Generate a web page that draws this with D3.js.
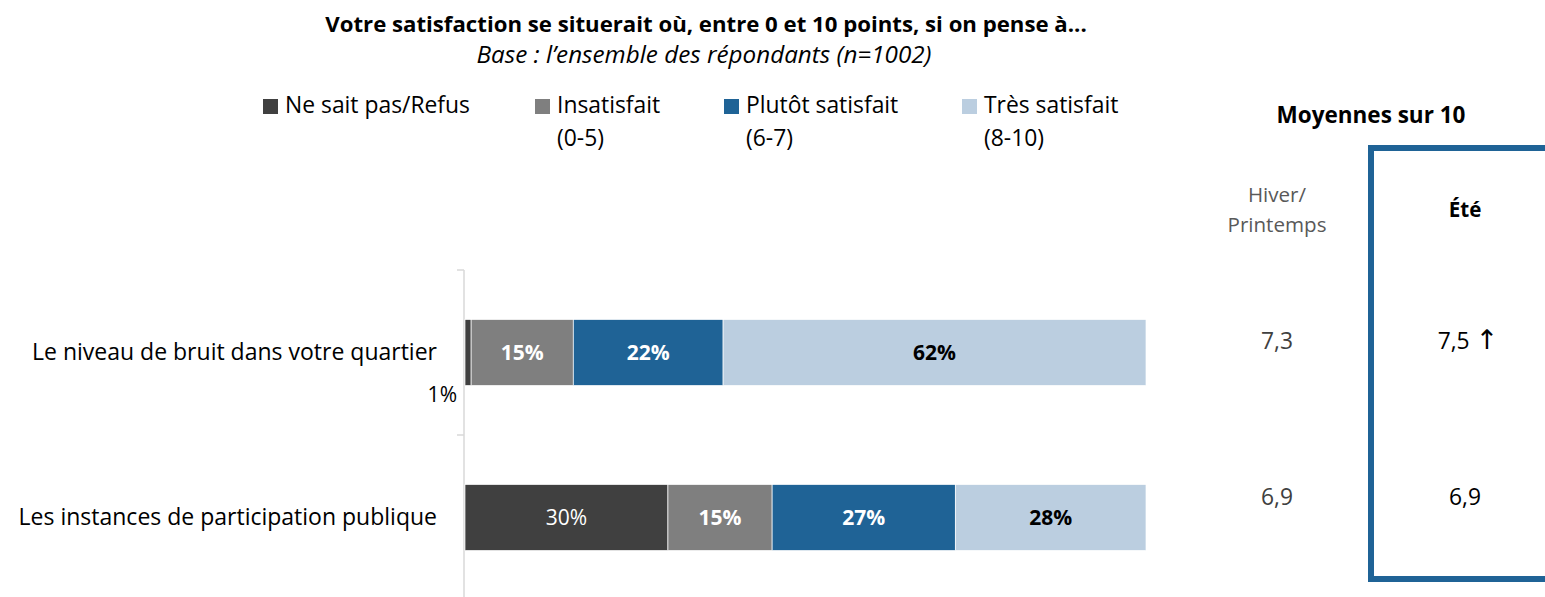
<!DOCTYPE html>
<html>
<head>
<meta charset="utf-8">
<script src="https://cdn.jsdelivr.net/npm/d3@7"></script>
<style>
  body { margin: 0; background: #fff; }
  svg { display: block; }
</style>
</head>
<body>
<div id="chart"></div>
<script>
// chart data
const categories = ["Le niveau de bruit dans votre quartier", "Les instances de participation publique"];
const seriesNames = ["Ne sait pas/Refus", "Insatisfait", "Plutôt satisfait", "Très satisfait"];
const seriesSub = ["", "(0-5)", "(6-7)", "(8-10)"];
const nspValues = [0.9, 29.8];
const insatValues = [15.0, 15.3];
const plutotValues = [22.0, 26.9];
const tresValues = [62.1, 28.0];
const hiverMeans = ["7,3", "6,9"];
const eteMeans = ["7,5", "6,9"];
const eteArrows = ["↑", ""];

const colors = ["#404040", "#7f7f7f", "#1f6396", "#bbcee0"];
const labelFill = ["#fff", "#fff", "#fff", "#000"];
const labelWeight = ["normal", "bold", "bold", "bold"];

const W = 1545, H = 597;
const mainFont = "'Open Sans', 'Noto Sans', sans-serif";
const sideFont = "'Open Sans', 'Noto Sans', sans-serif";

const svg = d3.select("#chart").append("svg")
  .attr("width", W).attr("height", H);

// scale font-size of a selection so that one of its texts gets the wanted width
function fit(sel, node, target) {
  const size = parseFloat(d3.select(node).style("font-size"));
  const len = node.getComputedTextLength();
  sel.style("font-size", (size * target / len).toFixed(2) + "px");
}

// title
const title = svg.append("text")
  .attr("x", 706).attr("y", 32)
  .attr("text-anchor", "middle")
  .style("font-family", mainFont).style("font-weight", "bold").style("font-size", "20px")
  .text("Votre satisfaction se situerait où, entre 0 et 10 points, si on pense à...");
fit(title, title.node(), 762);
const sub = svg.append("text")
  .attr("x", 704).attr("y", 63)
  .attr("text-anchor", "middle")
  .style("font-family", mainFont).style("font-style", "italic").style("font-size", "20px")
  .text("Base : l’ensemble des répondants (n=1002)");
fit(sub, sub.node(), 455);

// legend
const legendX = [285, 557, 746, 984];
const legend = svg.append("g").selectAll("g")
  .data(seriesNames)
  .join("g")
  .attr("transform", (d, i) => `translate(${legendX[i]},0)`);
legend.append("rect")
  .attr("x", -22).attr("y", 99).attr("width", 15).attr("height", 15)
  .attr("fill", (d, i) => colors[i]);
const legText = legend.append("text")
  .attr("y", 113)
  .style("font-family", mainFont).style("font-size", "20px").attr("fill", "#000")
  .text(d => d);
const legSub = legend.append("text")
  .attr("y", 146)
  .style("font-family", mainFont).style("font-size", "20px").attr("fill", "#000")
  .text((d, i) => seriesSub[i]);
fit(legText, legText.node(), 185);
legSub.style("font-size", legText.style("font-size"));

// stacked bars
const rows = categories.map((c, i) => ({
  cat: c,
  values: [nspValues[i], insatValues[i], plutotValues[i], tresValues[i]]
}));
rows.forEach(r => {
  let acc = 0;
  r.segs = r.values.map((v, k) => {
    const s = { k, v, x0: acc, x1: acc + v };
    acc += v;
    return s;
  });
});

const x = d3.scaleLinear().domain([0, 100]).range([465, 1146]);
const y = d3.scaleBand().domain(categories).range([270, 600])
  .paddingInner(0.6).paddingOuter(0.3);

// axis with ticks between categories
const yAxis = svg.append("g")
  .attr("transform", `translate(${x(0) - 1},0)`)
  .call(d3.axisLeft(y).tickSize(0).tickPadding(27));
yAxis.select(".domain").remove();
const catText = yAxis.selectAll("text")
  .style("font-family", mainFont).style("font-size", "20px").attr("fill", "#000");
fit(catText, catText.node(), 405);
const bounds = d3.range(categories.length + 1).map(i => y.range()[0] + i * y.step());
yAxis.append("line")
  .attr("y1", bounds[0]).attr("y2", bounds[bounds.length - 1])
  .attr("stroke", "#d9d9d9").attr("stroke-width", 1.5);
yAxis.selectAll(".bound").data(bounds).join("line")
  .attr("class", "bound")
  .attr("x1", -7).attr("x2", 0)
  .attr("y1", d => d).attr("y2", d => d)
  .attr("stroke", "#d9d9d9").attr("stroke-width", 1.5);

const rowG = svg.append("g").selectAll("g")
  .data(rows).join("g")
  .attr("transform", d => `translate(0,${y(d.cat)})`);

rowG.selectAll("rect")
  .data(d => d.segs).join("rect")
  .attr("x", d => x(d.x0))
  .attr("width", d => x(d.x1) - x(d.x0))
  .attr("height", y.bandwidth())
  .attr("fill", d => colors[d.k])
  .attr("stroke", "#fff").attr("stroke-width", 0.7);

const valText = rowG.selectAll("text.val")
  .data(d => d.segs).join("text")
  .attr("class", "val")
  .style("font-family", mainFont).style("font-size", "18px")
  .text(d => Math.round(d.v) + "%")
  .each(function(d) {
    const t = d3.select(this);
    const w = x(d.x1) - x(d.x0);
    if (w < 20) {
      t.attr("x", x(d.x0) - 8).attr("y", y.bandwidth() + 16)
        .attr("text-anchor", "end").attr("fill", "#000");
    } else {
      t.attr("x", (x(d.x0) + x(d.x1)) / 2).attr("y", y.bandwidth() / 2 + 7)
        .attr("text-anchor", "middle")
        .attr("fill", labelFill[d.k]).style("font-weight", labelWeight[d.k]);
    }
  });
fit(valText, valText.filter(d => d.k === 1).node(), 43);

// means panel
const moy = svg.append("text")
  .attr("x", 1371).attr("y", 123).attr("text-anchor", "middle")
  .style("font-family", sideFont).style("font-weight", "bold").style("font-size", "18px")
  .text("Moyennes sur 10");
fit(moy, moy.node(), 189);
svg.append("rect")
  .attr("x", 1371).attr("y", 148).attr("width", 200).attr("height", 431)
  .attr("fill", "none").attr("stroke", "#1f6396").attr("stroke-width", 6);

const hiverX = 1277, eteX = 1465;
const hiverHead = svg.append("text")
  .attr("text-anchor", "middle")
  .style("font-family", sideFont).style("font-size", "17px").attr("fill", "#595959");
hiverHead.append("tspan").attr("x", hiverX).attr("y", 202).text("Hiver/");
const printemps = hiverHead.append("tspan").attr("x", hiverX).attr("y", 232).text("Printemps");
const pSize = 17 * 99 / printemps.node().getComputedTextLength();
hiverHead.style("font-size", pSize + "px");
svg.append("text")
  .attr("x", eteX).attr("y", 217).attr("text-anchor", "middle")
  .style("font-family", sideFont).style("font-weight", "bold").style("font-size", pSize + "px")
  .text("Été");

const meanY = d3.scalePoint().domain(categories).range([349, 505]);
const hiverText = svg.append("g").selectAll("text")
  .data(categories).join("text")
  .attr("x", hiverX).attr("y", meanY)
  .attr("text-anchor", "middle")
  .style("font-family", sideFont).style("font-size", "22px").attr("fill", "#404040")
  .text((d, i) => hiverMeans[i]);
fit(hiverText, hiverText.node(), 32);
const eteText = svg.append("g").selectAll("text")
  .data(categories).join("text")
  .attr("x", (d, i) => eteX + (eteArrows[i] ? 3 : 0)).attr("y", meanY)
  .attr("text-anchor", "middle")
  .style("font-family", sideFont).style("font-size", hiverText.style("font-size")).attr("fill", "#000")
  .text((d, i) => eteMeans[i]);
eteText.filter((d, i) => eteArrows[i])
  .append("tspan")
  .attr("dx", 6)
  .style("font-family", "'DejaVu Sans', sans-serif").style("font-size", "27px")
  .text((d, i) => eteArrows[categories.indexOf(d)]);
</script>
</body>
</html>
